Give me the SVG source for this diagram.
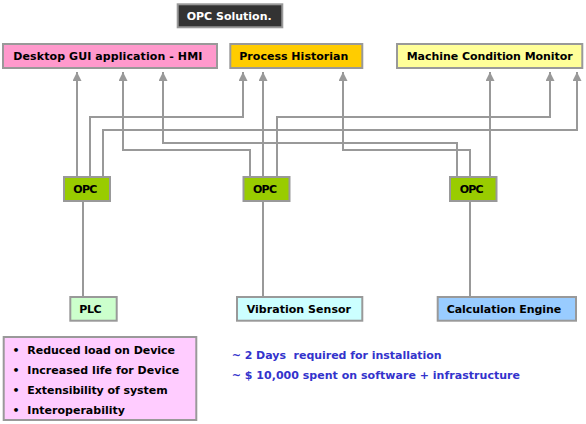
<svg xmlns="http://www.w3.org/2000/svg" width="586" height="424" viewBox="0 0 586 424">
<style>
rect.box{stroke:#999999;stroke-width:2}
text{font-family:"DejaVu Sans",Verdana,sans-serif;font-weight:bold;font-size:11px;fill:#000}
.conn path{fill:none;stroke:#999999;stroke-width:2}
.blue{fill:#3333CC}
</style>
<defs>
<marker id="ah" markerUnits="userSpaceOnUse" markerWidth="10" markerHeight="10" refX="9" refY="4.5" orient="auto">
<path d="M0,0 L9,4.5 L0,9 z" fill="#999999"/>
</marker>
</defs>
<rect width="586" height="424" fill="#ffffff"/>
<g id="title">
<rect class="box" x="177.7" y="4.3" width="104.6" height="23" fill="#333333"/>
<text x="186.7" y="20" textLength="85" style="fill:#ffffff">OPC Solution.</text>
</g>
<g class="conn">
<path d="M77,177 V72" marker-end="url(#ah)"/>
<path d="M90,177 V117 H243 V72" marker-end="url(#ah)"/>
<path d="M103,177 V130 H577 V72" marker-end="url(#ah)"/>
<path d="M250,177 V150 H123 V72" marker-end="url(#ah)"/>
<path d="M263,177 V72" marker-end="url(#ah)"/>
<path d="M277,177 V117 H550 V72" marker-end="url(#ah)"/>
<path d="M457,177 V143 H163 V72" marker-end="url(#ah)"/>
<path d="M470,177 V150 H343 V72" marker-end="url(#ah)"/>
<path d="M490,177 V72" marker-end="url(#ah)"/>
<path d="M83,201 V297"/>
<path d="M263,201 V297"/>
<path d="M470,201 V297"/>
</g>
<g id="hmi">
<rect class="box" x="3" y="44" width="214" height="24" fill="#FF99CC"/>
<text x="13.3" y="60" textLength="189">Desktop GUI application - HMI</text>
</g>
<g id="historian">
<rect class="box" x="230.3" y="44" width="132" height="24" fill="#FFCC00"/>
<text x="239.3" y="60" textLength="109">Process Historian</text>
</g>
<g id="mcm">
<rect class="box" x="397" y="44" width="185.3" height="24" fill="#FFFF99"/>
<text x="406.7" y="60" textLength="166">Machine Condition Monitor</text>
</g>
<g id="opc1">
<rect class="box" x="64" y="177" width="46" height="24" fill="#99CC00"/>
<text x="73.3" y="193.3" textLength="24">OPC</text>
</g>
<g id="opc2">
<rect class="box" x="243.5" y="177" width="46" height="24" fill="#99CC00"/>
<text x="253" y="193.3" textLength="24">OPC</text>
</g>
<g id="opc3">
<rect class="box" x="450" y="177" width="46.5" height="24" fill="#99CC00"/>
<text x="459.7" y="193.3" textLength="24">OPC</text>
</g>
<g id="plc">
<rect class="box" x="70.3" y="297" width="46.4" height="23.7" fill="#CCFFCC"/>
<text x="79.3" y="313.3" textLength="22.4">PLC</text>
</g>
<g id="vibration">
<rect class="box" x="237" y="297" width="125.3" height="23.7" fill="#CCFFFF"/>
<text x="246.7" y="313.3" textLength="104.3">Vibration Sensor</text>
</g>
<g id="calc">
<rect class="box" x="437.7" y="297" width="138.3" height="23.7" fill="#99CCFF"/>
<text x="446.7" y="313.3" textLength="114.6">Calculation Engine</text>
</g>
<g id="benefits">
<rect class="box" x="3.7" y="337" width="192.6" height="83" fill="#FFCCFF"/>
<text x="12.5" y="354">•</text>
<text x="27.3" y="354" textLength="147.7">Reduced load on Device</text>
<text x="12.5" y="374">•</text>
<text x="27.3" y="374" textLength="152">Increased life for Device</text>
<text x="12.5" y="394">•</text>
<text x="27.3" y="394" textLength="140.4">Extensibility of system</text>
<text x="12.5" y="414">•</text>
<text x="27.3" y="414" textLength="97.7">Interoperability</text>
</g>
<g id="notes">
<text class="blue" x="231.7" y="359" textLength="210" style="white-space:pre">~ 2 Days  required for installation</text>
<text class="blue" x="231.7" y="379" textLength="288.3">~ $ 10,000 spent on software + infrastructure</text>
</g>
</svg>
